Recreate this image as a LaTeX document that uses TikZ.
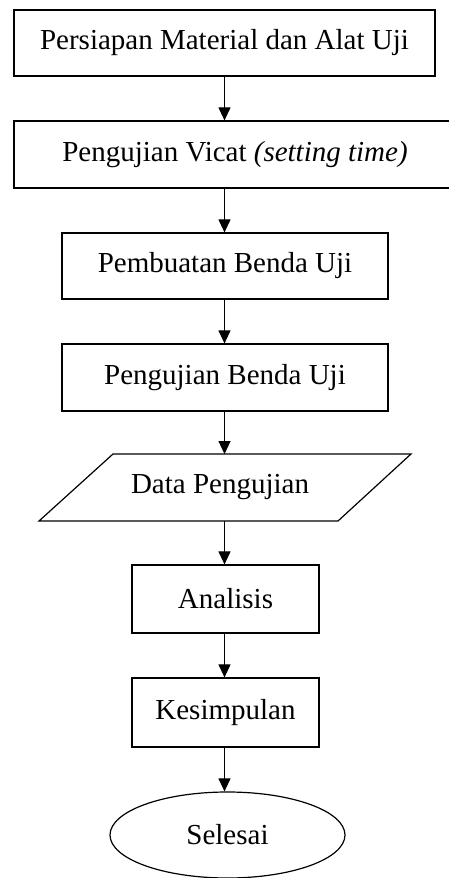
\documentclass[tikz,border=0pt]{standalone}
\usepackage{fontspec}
\setmainfont{Liberation Serif}
\usetikzlibrary{arrows.meta,shapes.geometric,calc}
\begin{document}
\begin{tikzpicture}[x=1pt,y=-1pt,
  every node/.style={font=\fontsize{29}{33}\selectfont, inner sep=0pt},
  box/.style={draw, line width=1.2pt, rectangle},
  link/.style={line width=1.1pt, -{Triangle[width=12pt,length=13pt]}},
  outline/.style={draw, line width=1.2pt}]
\useasboundingbox (0,0) rectangle (449,878);
\node[box, minimum width=421pt, minimum height=66pt] (b1) at (224.5,43) {Persiapan Material dan Alat Uji};
\node[box, minimum width=442pt, minimum height=67pt] (b2) at (235,154.5) {Pengujian Vicat \textit{(setting time)}};
\node[box, minimum width=326pt, minimum height=66pt] (b3) at (225,266) {Pembuatan Benda Uji};
\node[box, minimum width=326pt, minimum height=67pt] (b4) at (225,377.5) {Pengujian Benda Uji};
\coordinate (ptl) at (113,454);
\coordinate (ptr) at (411,454);
\coordinate (pbr) at (338,521);
\coordinate (pbl) at (39,521);
\draw[outline] (ptl) -- (ptr) -- (pbr) -- (pbl) -- cycle;
\node (data) at (220,487) {Data Pengujian};
\coordinate (datatop) at (224.5,454);
\coordinate (databot) at (224.5,521);
\node[box, minimum width=187pt, minimum height=68pt] (b5) at (225.5,599) {Analisis};
\node[box, minimum width=187pt, minimum height=69pt] (b6) at (225.5,712.5) {Kesimpulan};
\node[ellipse, outline, minimum width=235pt, minimum height=86pt] (end) at (227.5,835) {Selesai};
\draw[link] (b1.south) -- (b1.south |- b2.north);
\draw[link] (b1.south |- b2.south) -- (b1.south |- b3.north);
\draw[link] (b1.south |- b3.south) -- (b1.south |- b4.north);
\draw[link] (b1.south |- b4.south) -- (datatop);
\draw[link] (databot) -- (b1.south |- b5.north);
\draw[link] (b1.south |- b5.south) -- (b1.south |- b6.north);
\draw[link] (b1.south |- b6.south) -- (b1.south |- end.north);
\end{tikzpicture}
\end{document}
